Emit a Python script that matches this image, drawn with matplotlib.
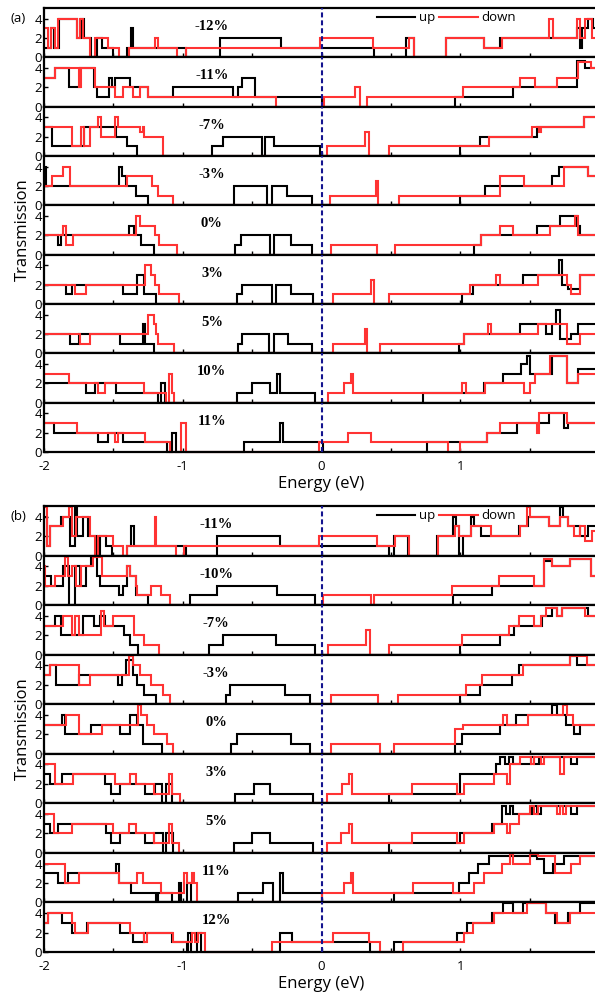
import matplotlib
matplotlib.use('Agg')
import matplotlib.pyplot as plt
from matplotlib.lines import Line2D
import numpy as np

plt.rcParams['font.family'] = ['Open Sans', 'DejaVu Sans']
plt.rcParams['axes.unicode_minus'] = False

# each series: (start energy, transmission level); last level runs to 2.0 eV
# ---- panel (a) ----
a_m12_up = [(-2.00, 1), (-1.95, 3), (-1.93, 1), (-1.89, 4), (-1.76, 2), (-1.73, 4), (-1.71, 2), (-1.66, 0),
            (-1.62, 2), (-1.58, 1), (-1.50, 0), (-1.40, 1), (-1.37, 3), (-1.355, 1), (-0.98, 0), (-0.73, 2),
            (-0.29, 1), (0.38, 0), (0.61, 2), (0.67, 0), (0.90, 2), (1.17, 1), (1.29, 2), (1.84, 3), (1.86, 1),
            (1.88, 3), (1.92, 4), (1.96, 3)]
a_m12_dn = [(-2.00, 3), (-1.97, 1), (-1.95, 3), (-1.92, 1), (-1.90, 4), (-1.76, 2), (-1.74, 4), (-1.72, 2),
            (-1.67, 0), (-1.63, 2), (-1.54, 1), (-1.46, 0), (-1.39, 1), (-1.20, 2), (-1.18, 1), (-1.04, 0),
            (-0.98, 1), (-0.01, 2), (0.37, 1), (0.63, 2), (0.67, 0), (0.90, 2), (1.17, 1), (1.30, 2), (1.64, 4),
            (1.67, 2), (1.84, 4), (1.86, 2), (1.90, 4), (1.95, 2), (1.98, 4)]
a_m11_up = [(-2.00, 3), (-1.92, 4), (-1.82, 2), (-1.74, 4), (-1.64, 2), (-1.62, 1), (-1.53, 3), (-1.51, 2),
            (-1.49, 3), (-1.38, 2), (-1.25, 1), (-1.07, 2), (-0.64, 1), (-0.60, 2), (-0.57, 3), (-0.48, 1),
            (0.00, 0), (0.96, 1), (1.38, 2), (1.84, 4.7), (1.90, 4)]
a_m11_dn = [(-2.00, 3), (-1.92, 4), (-1.75, 2), (-1.73, 4), (-1.63, 2), (-1.49, 1), (-1.43, 2), (-1.36, 1),
            (-1.31, 2), (-1.25, 1), (-0.33, 0), (0.02, 1), (0.24, 2), (0.28, 0), (0.33, 1), (1.02, 2),
            (1.43, 3), (1.54, 2), (1.70, 3), (1.85, 4.6), (1.94, 4)]
a_m7_up = [(-2.00, 3), (-1.94, 1), (-1.71, 3), (-1.48, 2), (-1.40, 1), (-1.33, 0), (-0.79, 1), (-0.71, 2),
           (-0.43, 0), (-0.41, 2), (-0.34, 1), (-0.01, 0), (1.00, 1), (1.14, 2), (1.55, 3), (1.89, 4)]
a_m7_dn = [(-2.00, 3), (-1.80, 1), (-1.73, 3), (-1.71, 1), (-1.67, 3), (-1.61, 4), (-1.59, 2), (-1.49, 4),
           (-1.47, 3), (-1.31, 2.5), (-1.29, 3), (-1.28, 2), (-1.14, 0), (0.04, 1), (0.31, 2.5), (0.34, 0),
           (0.49, 1), (1.21, 2), (1.52, 3), (1.57, 2.5), (1.58, 3), (1.89, 4)]
a_m3_up = [(-2.00, 2), (-1.995, 4), (-1.985, 2), (-1.46, 4), (-1.44, 3), (-1.41, 2), (-1.34, 1), (-1.25, 0),
           (-0.63, 2), (-0.39, 0), (-0.36, 2), (-0.25, 1), (-0.07, 0), (1.00, 1), (1.18, 2), (1.66, 3),
           (1.71, 4), (1.92, 3)]
a_m3_dn = [(-2.00, 2), (-1.94, 3), (-1.86, 4), (-1.81, 2), (-1.40, 3), (-1.22, 2), (-1.18, 1), (-1.07, 0),
           (0.06, 1), (0.39, 2.5), (0.41, 0), (0.56, 1), (1.29, 3), (1.46, 2), (1.75, 4), (1.92, 3)]
a_0_up = [(-2.00, 2), (-1.90, 1), (-1.88, 2), (-1.39, 3), (-1.35, 2), (-1.30, 1), (-1.21, 0), (-0.62, 1),
          (-0.58, 2), (-0.37, 0), (-0.34, 2), (-0.22, 1), (-0.07, 0), (1.10, 1), (1.15, 2), (1.55, 3),
          (1.72, 4), (1.84, 3), (1.86, 2)]
a_0_dn = [(-2.00, 2), (-1.86, 3), (-1.84, 1), (-1.79, 2), (-1.34, 4), (-1.31, 3), (-1.20, 2), (-1.17, 1),
          (-1.04, 0), (0.07, 1), (0.40, 0), (0.53, 1), (1.15, 2), (1.29, 3), (1.38, 2), (1.65, 3), (1.83, 4),
          (1.85, 2)]
a_3_up = [(-2.00, 2), (-1.84, 1), (-1.80, 2), (-1.43, 1), (-1.33, 3), (-1.28, 1), (-1.19, 0), (-0.61, 1),
          (-0.57, 2), (-0.36, 0), (-0.33, 2), (-0.22, 1), (-0.06, 0), (1.01, 1), (1.09, 2), (1.45, 3),
          (1.71, 4.5), (1.73, 2), (1.78, 1.5), (1.86, 3)]
a_3_dn = [(-2.00, 2), (-1.78, 1), (-1.70, 2), (-1.27, 4), (-1.23, 3), (-1.20, 2), (-1.17, 1), (-1.03, 0),
          (0.08, 1), (0.36, 2.5), (0.38, 0), (0.49, 1), (1.07, 2), (1.26, 3), (1.29, 2), (1.56, 3), (1.77, 2),
          (1.80, 1), (1.86, 3)]
a_5_up = [(-2.00, 2), (-1.81, 1), (-1.75, 2), (-1.45, 1), (-1.29, 3), (-1.27, 1), (-1.21, 0), (-0.60, 1),
          (-0.57, 2), (-0.38, 0), (-0.34, 2), (-0.24, 1), (-0.07, 0), (0.99, 1), (1.03, 2), (1.43, 3),
          (1.62, 2), (1.66, 3), (1.69, 4.5), (1.72, 1.5), (1.80, 2), (1.85, 3)]
a_5_dn = [(-2.00, 2), (-1.74, 1), (-1.67, 2), (-1.25, 4), (-1.21, 3), (-1.19, 2), (-1.18, 1), (-1.06, 0),
          (0.08, 1), (0.31, 2.5), (0.33, 0), (0.42, 1), (1.03, 2), (1.20, 3), (1.22, 2), (1.56, 3), (1.77, 1),
          (1.86, 2)]
a_10_up = [(-2.00, 2), (-1.70, 1), (-1.63, 2), (-1.48, 1), (-1.18, 0), (-1.16, 2), (-1.13, 0), (-0.61, 1),
           (-0.50, 2), (-0.37, 1), (-0.32, 3), (-0.30, 1), (-0.05, 0), (0.73, 1), (1.17, 2), (1.31, 3),
           (1.44, 4), (1.48, 4.8), (1.50, 3), (1.66, 4.8), (1.77, 2), (1.85, 3.5)]
a_10_dn = [(-2.00, 3), (-1.82, 2), (-1.61, 1), (-1.56, 2), (-1.28, 1), (-1.12, 0), (-1.10, 3), (-1.08, 1),
           (-1.06, 0), (0.05, 1), (0.16, 2), (0.21, 3), (0.23, 1), (1.01, 2), (1.04, 1), (1.18, 2), (1.46, 1),
           (1.50, 2), (1.54, 3), (1.65, 4.8), (1.77, 2), (1.85, 3)]
a_11_up = [(-2.00, 3), (-1.93, 2), (-1.61, 1), (-1.54, 2), (-1.43, 1), (-1.11, 0), (-1.08, 2), (-1.05, 0),
           (-0.56, 1), (-0.30, 3), (-0.28, 1), (0.01, 0), (0.76, 1), (1.19, 2), (1.41, 3), (1.64, 4),
           (1.75, 2.5), (1.78, 3)]
a_11_dn = [(-2.00, 3), (-1.76, 2), (-1.49, 1), (-1.47, 2), (-1.27, 1), (-1.09, 0), (-1.01, 3), (-0.98, 0),
           (-0.02, 1), (0.19, 2), (0.36, 1), (0.91, 0), (1.00, 1), (1.19, 2), (1.29, 3), (1.55, 2), (1.57, 4),
           (1.77, 3)]

# ---- panel (b) ----
b_m11_up = [(-2.00, 4), (-1.98, 1), (-1.96, 3), (-1.88, 4), (-1.81, 1), (-1.78, 5), (-1.76, 2), (-1.72, 4),
            (-1.68, 2), (-1.62, 0), (-1.60, 2), (-1.55, 1), (-1.51, 0), (-1.40, 1), (-1.37, 3), (-1.35, 1),
            (-0.98, 0), (-0.75, 2), (-0.30, 1), (0.49, 0), (0.52, 2), (0.62, 0), (0.83, 2), (0.95, 4),
            (0.97, 3), (0.99, 0), (1.02, 2), (1.08, 4), (1.10, 3), (1.15, 2), (1.42, 3), (1.49, 4), (1.64, 3),
            (1.72, 5), (1.74, 4), (1.78, 3), (1.86, 2), (1.92, 3)]
b_m11_dn = [(-2.00, 5), (-1.98, 1), (-1.96, 3), (-1.86, 4), (-1.82, 5), (-1.80, 2), (-1.77, 4), (-1.67, 2),
            (-1.63, 0), (-1.61, 2), (-1.50, 1), (-1.43, 0), (-1.40, 1), (-1.20, 4), (-1.19, 1), (-1.05, 0),
            (-0.99, 1), (-0.02, 2), (0.40, 1), (0.53, 2), (0.63, 0), (0.84, 2), (0.96, 3), (0.99, 2),
            (1.08, 3), (1.22, 2), (1.43, 3), (1.48, 5), (1.50, 4), (1.64, 3), (1.72, 4), (1.78, 3), (1.82, 2),
            (1.86, 3), (1.90, 1.5), (1.95, 2.5)]
b_m10_up = [(-2.00, 3), (-1.95, 2), (-1.86, 4), (-1.82, 0), (-1.78, 4), (-1.74, 2), (-1.70, 4), (-1.66, 5),
            (-1.62, 3), (-1.60, 2), (-1.46, 1), (-1.43, 2), (-1.40, 4), (-1.38, 3), (-1.34, 1), (-1.25, 0),
            (-0.95, 1), (-0.75, 2), (-0.32, 1), (-0.05, 0), (0.95, 1), (1.23, 2), (1.60, 4.5), (1.66, 4),
            (1.79, 4.7), (1.94, 3)]
b_m10_dn = [(-2.00, 4), (-1.99, 2), (-1.92, 3), (-1.85, 5), (-1.83, 3), (-1.80, 4), (-1.77, 2), (-1.73, 4),
            (-1.65, 5), (-1.58, 3), (-1.40, 4), (-1.38, 3), (-1.34, 2), (-1.33, 1), (-1.23, 2), (-1.16, 1),
            (-1.09, 0), (0.01, 1), (0.36, 0), (0.38, 1), (0.94, 2), (1.28, 3), (1.53, 2), (1.60, 4.7),
            (1.66, 4), (1.79, 4.7), (1.94, 3)]
b_m7_up = [(-2.00, 3), (-1.92, 4), (-1.88, 2), (-1.72, 4), (-1.64, 3), (-1.60, 4), (-1.56, 3), (-1.42, 2),
           (-1.38, 1), (-1.32, 0), (-0.81, 1), (-0.71, 2), (-0.33, 1), (-0.05, 0), (1.00, 1), (1.29, 2),
           (1.39, 3), (1.59, 4), (1.66, 4.8), (1.70, 4), (1.73, 4.8), (1.92, 4)]
b_m7_dn = [(-2.00, 3), (-1.86, 4), (-1.80, 2), (-1.78, 4), (-1.75, 2), (-1.59, 4.5), (-1.57, 3), (-1.50, 4),
           (-1.35, 2), (-1.28, 1), (-1.17, 0), (0.05, 1), (0.32, 2.5), (0.35, 0), (0.49, 1), (1.01, 2),
           (1.35, 3), (1.42, 4), (1.53, 3), (1.58, 4), (1.62, 4.8), (1.70, 4), (1.73, 4.8), (1.90, 4)]
b_m3_up = [(-2.00, 3), (-1.96, 4), (-1.91, 2), (-1.75, 3), (-1.47, 2), (-1.44, 3), (-1.41, 4.5), (-1.36, 3),
           (-1.33, 2), (-1.28, 1), (-1.19, 0), (-0.69, 1), (-0.66, 2), (-0.26, 1), (-0.08, 0), (1.00, 1),
           (1.14, 2), (1.37, 3), (1.42, 4), (1.79, 5), (1.84, 4)]
b_m3_dn = [(-2.00, 3), (-1.96, 4), (-1.75, 2), (-1.67, 3), (-1.39, 5), (-1.36, 4), (-1.31, 3), (-1.23, 2),
           (-1.14, 1), (-1.09, 0), (0.07, 1), (0.41, 0), (0.55, 1), (1.04, 2), (1.16, 3), (1.45, 4), (1.79, 5),
           (1.91, 4)]
b_0_up = [(-2.00, 3), (-1.87, 4), (-1.85, 2), (-1.66, 3), (-1.45, 2), (-1.38, 4), (-1.33, 3), (-1.29, 1),
          (-1.15, 0), (-0.65, 1), (-0.61, 2), (-0.22, 1), (-0.08, 0), (0.96, 1), (1.01, 2), (1.29, 3),
          (1.40, 4), (1.66, 5), (1.70, 4), (1.76, 3), (1.82, 2), (1.86, 3)]
b_0_dn = [(-2.00, 3), (-1.84, 4), (-1.75, 2), (-1.58, 3), (-1.32, 5), (-1.30, 4), (-1.26, 3), (-1.21, 2),
          (-1.11, 1), (-1.07, 0), (0.07, 1), (0.42, 0), (0.52, 1), (0.96, 2.5), (1.02, 3), (1.31, 4),
          (1.34, 3), (1.49, 4), (1.74, 5), (1.77, 4), (1.81, 3)]
b_3_up = [(-2.00, 3), (-1.96, 2), (-1.87, 3), (-1.56, 2), (-1.52, 1), (-1.45, 2), (-1.27, 1), (-1.20, 2),
          (-1.15, 0), (-1.12, 2), (-1.08, 0), (-0.62, 1), (-0.49, 2), (-0.37, 1), (-0.06, 0), (0.49, 1),
          (1.00, 3), (1.26, 4), (1.29, 4.8), (1.32, 4), (1.35, 4.8), (1.38, 4), (1.51, 4.8), (1.53, 4),
          (1.57, 4.8), (1.80, 4), (1.84, 4.8)]
b_3_dn = [(-2.00, 4), (-1.92, 2), (-1.79, 3), (-1.49, 2), (-1.38, 3), (-1.34, 2), (-1.21, 1), (-1.10, 3),
          (-1.08, 1), (-1.02, 0), (0.04, 1), (0.15, 2), (0.20, 3), (0.22, 1), (0.65, 2), (0.98, 1), (1.03, 2),
          (1.24, 3), (1.34, 2), (1.36, 4), (1.43, 4.8), (1.51, 4), (1.53, 4.8), (1.58, 4), (1.60, 4.8),
          (1.72, 3), (1.75, 4.8)]
b_5_up = [(-2.00, 3), (-1.96, 2), (-1.90, 3), (-1.55, 2), (-1.52, 1), (-1.45, 2), (-1.27, 1), (-1.21, 2),
          (-1.14, 0), (-1.12, 2), (-1.07, 0), (-0.63, 1), (-0.50, 2), (-0.37, 1), (-0.06, 0), (0.49, 1),
          (1.00, 2), (1.23, 3), (1.30, 4.8), (1.33, 4), (1.36, 4.8), (1.38, 4), (1.52, 4.8), (1.55, 4),
          (1.58, 4.8), (1.80, 4), (1.84, 4.8)]
b_5_dn = [(-2.00, 4), (-1.93, 2), (-1.80, 3), (-1.50, 2), (-1.39, 3), (-1.34, 2), (-1.21, 1), (-1.10, 3),
          (-1.08, 1), (-1.03, 0), (0.04, 1), (0.14, 2), (0.20, 3), (0.22, 1), (0.65, 2), (0.98, 1), (1.03, 2),
          (1.24, 3), (1.34, 2), (1.36, 3), (1.42, 4), (1.50, 4.8), (1.53, 4), (1.56, 4.8), (1.70, 4),
          (1.72, 4.8), (1.74, 4), (1.76, 4.8)]
b_11_up = [(-2.00, 3), (-1.90, 2), (-1.83, 3), (-1.48, 4), (-1.46, 2), (-1.37, 1), (-1.19, 0), (-1.18, 1),
           (-1.08, 0), (-1.03, 2), (-1.01, 0), (-0.97, 2), (-0.94, 0), (-0.60, 1), (-0.42, 2), (-0.35, 0),
           (-0.30, 3), (-0.28, 1), (0.00, 0), (0.52, 1), (0.99, 2), (1.06, 3), (1.13, 4), (1.21, 4.8),
           (1.55, 4.5), (1.60, 3), (1.67, 4), (1.75, 4.8)]
b_11_dn = [(-2.00, 4), (-1.85, 2), (-1.75, 3), (-1.46, 2), (-1.33, 3), (-1.29, 2), (-1.16, 1), (-0.99, 3),
           (-0.97, 2), (-0.93, 3), (-0.92, 2), (-0.90, 0), (0.00, 1), (0.16, 2), (0.21, 3), (0.23, 1),
           (0.66, 2), (0.95, 1), (1.10, 2), (1.17, 3), (1.30, 4), (1.36, 5), (1.38, 4), (1.50, 5), (1.56, 4.8),
           (1.68, 3), (1.80, 4), (1.86, 4.8)]
b_12_up = [(-2.00, 3), (-1.97, 4), (-1.87, 3), (-1.80, 2), (-1.69, 3), (-1.45, 2), (-1.36, 1), (-1.28, 2),
           (-1.08, 1), (-0.97, 0), (-0.96, 2), (-0.94, 0), (-0.90, 2), (-0.87, 0), (-0.30, 2), (-0.21, 1),
           (0.35, 0), (0.52, 1), (0.98, 2), (1.05, 3), (1.23, 4), (1.31, 5), (1.38, 4), (1.45, 5), (1.62, 4),
           (1.68, 3), (1.78, 4), (1.86, 5)]
b_12_dn = [(-2.00, 3), (-1.97, 4), (-1.80, 3), (-1.78, 2), (-1.68, 3), (-1.38, 2), (-1.28, 1), (-1.26, 2),
           (-1.07, 1), (-0.93, 2), (-0.91, 1), (-0.89, 2), (-0.84, 0), (-0.36, 1), (0.08, 2), (0.34, 1),
           (0.42, 0), (0.59, 1), (1.03, 2), (1.09, 3), (1.24, 4), (1.48, 5), (1.62, 4), (1.70, 3), (1.79, 4)]

A_LABELS = ['-12%', '-11%', '-7%', '-3%', '0%', '3%', '5%', '10%', '11%']
A_UP = [a_m12_up, a_m11_up, a_m7_up, a_m3_up, a_0_up, a_3_up, a_5_up, a_10_up, a_11_up]
A_DN = [a_m12_dn, a_m11_dn, a_m7_dn, a_m3_dn, a_0_dn, a_3_dn, a_5_dn, a_10_dn, a_11_dn]
B_LABELS = ['-11%', '-10%', '-7%', '-3%', '0%', '3%', '5%', '11%', '12%']
B_UP = [b_m11_up, b_m10_up, b_m7_up, b_m3_up, b_0_up, b_3_up, b_5_up, b_11_up, b_12_up]
B_DN = [b_m11_dn, b_m10_dn, b_m7_dn, b_m3_dn, b_0_dn, b_3_dn, b_5_dn, b_11_dn, b_12_dn]
X_TICKS = [-2, -1, 0, 1, 2]
X_TICKLABELS = ['-2', '-1', '0', '1', '']

BLACK = '#000000'
RED = '#ff3333'
NAVY = '#14148f'
W, H = 595, 992


def to_stairs(segs):
    edges = [s[0] for s in segs] + [2.0]
    vals = [s[1] for s in segs]
    return edges, vals


fig = plt.figure(figsize=(W / 100, H / 100), dpi=100)
left = 44 / W
width = 555 / W


def draw_panel(top_px, bot_px, labels, ups, dns, tag, lab_x):
    h = (bot_px - top_px) / 9
    axes = []
    for i in range(9):
        y0 = 1 - (top_px + (i + 1) * h) / H
        ax = fig.add_axes([left, y0, width, h / H])
        e, v = to_stairs(ups[i])
        ax.stairs(v, e, color=BLACK, lw=1.5, baseline=None, clip_on=False, zorder=2)
        e, v = to_stairs(dns[i])
        ax.stairs(v, e, color=RED, lw=1.5, baseline=None, clip_on=False, zorder=2.5)
        ax.axvline(0, color=NAVY, lw=1.5, ls=(0, (2.4, 1.4)), zorder=3)
        ax.set_xlim(-2, 2)
        ax.set_ylim(0, 5.1)
        ax.set_yticks([0, 2, 4])
        ax.set_xticks(X_TICKS)
        ax.set_xticklabels(X_TICKLABELS)
        ax.set_xticks([-1.5, -0.5, 0.5, 1.5], minor=True)
        ax.tick_params(which='both', direction='in', length=3, width=1, top=False, right=False)
        ax.tick_params(axis='y', labelsize=9.5, pad=1.5)
        ax.tick_params(axis='x', labelsize=9.5, pad=6)
        for sp in ax.spines.values():
            sp.set_linewidth(1.6)
        ax.text(lab_x, 3.2, labels[i], ha='center', va='center', fontsize=10.5,
                fontweight='bold', family='Liberation Serif')
        if i < 8:
            ax.tick_params(axis='x', labelbottom=False)
        axes.append(ax)
    axes[-1].set_xlabel('Energy (eV)', fontsize=12, labelpad=2)
    handles = [Line2D([], [], color=BLACK, lw=1.5), Line2D([], [], color=RED, lw=1.5)]
    axes[0].legend(handles, ['up', 'down'], ncol=2, loc='center left', bbox_to_anchor=(0.6, 0.8),
                   frameon=False, handlelength=2.9, handletextpad=0.3, columnspacing=0.3,
                   borderpad=0, borderaxespad=0, fontsize=9.5)
    fig.text(22.5 / W, 1 - (top_px + bot_px) / 2 / H, 'Transmission', rotation=90,
             ha='center', va='center', fontsize=12)
    fig.text(18 / W, 1 - (top_px + 10) / H, tag, ha='center', va='center', fontsize=9.5)


draw_panel(8, 452, A_LABELS, A_UP, A_DN, '(a)', -0.79)
draw_panel(506, 952, B_LABELS, B_UP, B_DN, '(b)', -0.76)

fig.savefig('out.png', dpi=100)
